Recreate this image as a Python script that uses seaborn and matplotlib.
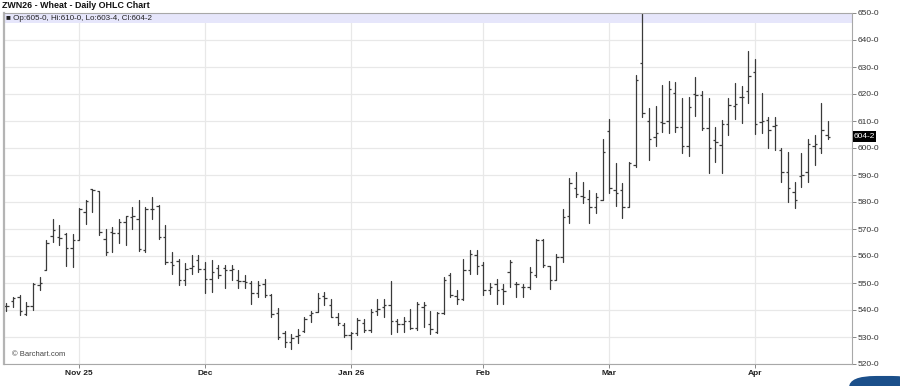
import numpy as np
import pandas as pd
import matplotlib
matplotlib.use("Agg")
import matplotlib.pyplot as plt
import matplotlib.transforms as mtransforms
from matplotlib.patches import Rectangle, FancyBboxPatch
import seaborn as sns

# ---------------- data (ZWN26 daily OHLC) ----------------
opens = [541.3, 543.5, 545.0, 538.5, 541.5, 549.3, 555.0, 567.5, 566.9, 568.0,
         562.8, 565.9, 576.4, 584.8, 584.2, 566.3, 568.8, 568.4, 572.7, 574.6,
         573.8, 562.1, 577.3, 578.5, 567.0, 557.8, 558.3, 551.2, 555.6, 558.6,
         555.1, 551.4, 555.7, 555.4, 554.8, 551.1, 550.7, 549.9, 546.2, 549.5,
         545.6, 539.0, 531.4, 528.0, 530.5, 532.2, 538.1, 539.4, 545.2, 541.9,
         537.5, 534.4, 530.7, 531.4, 535.3, 532.6, 539.8, 541.2, 541.7, 536.1,
         534.8, 536.0, 533.4, 541.0, 535.0, 531.9, 538.9, 552.8, 545.1, 544.2,
         554.7, 560.2, 556.5, 547.3, 549.8, 547.8, 554.0, 549.8, 548.5, 548.5,
         552.8, 566.0, 556.2, 551.0, 559.6, 575.0, 585.1, 582.2, 581.0, 578.3,
         580.7, 606.4, 584.5, 584.4, 578.3, 593.7, 631.6, 610.1, 604.2, 609.8,
         610.0, 620.5, 607.9, 600.9, 619.9, 619.6, 607.5, 603.0, 601.1, 608.9,
         615.5, 618.8, 621.2, 628.3, 609.5, 610.4, 608.1, 599.3, 591.2, 583.8,
         589.6, 591.2, 600.7, 599.9, 605.0]
highs = [542.7, 545.0, 545.5, 543.0, 550.0, 552.3, 566.0, 573.6, 571.5, 568.6,
         568.1, 577.9, 580.7, 584.8, 584.2, 570.0, 570.9, 573.6, 574.9, 578.1,
         580.6, 578.1, 581.9, 579.0, 571.6, 561.5, 558.8, 557.5, 560.2, 560.2,
         557.8, 558.4, 556.7, 556.7, 556.7, 554.8, 553.0, 550.7, 550.7, 551.5,
         545.8, 540.6, 532.2, 531.0, 533.0, 537.5, 539.8, 546.4, 546.8, 544.0,
         538.8, 535.1, 532.0, 536.9, 536.5, 540.2, 544.0, 544.0, 550.6, 536.7,
         537.3, 540.4, 542.8, 542.8, 539.6, 539.3, 552.2, 553.7, 547.3, 559.0,
         562.1, 562.1, 557.8, 550.0, 551.6, 549.8, 558.4, 550.4, 549.8, 555.9,
         566.4, 566.4, 556.2, 560.9, 577.5, 588.8, 591.2, 587.5, 584.4, 583.2,
         603.2, 610.6, 594.3, 586.9, 594.9, 627.0, 650.0, 614.7, 615.6, 623.3,
         624.9, 624.6, 618.4, 618.8, 626.4, 621.2, 618.4, 607.9, 610.4, 618.4,
         624.2, 623.0, 636.0, 633.0, 620.5, 611.4, 611.6, 599.9, 598.6, 587.5,
         598.3, 603.2, 604.8, 616.8, 610.0]
lows = [539.5, 541.2, 538.0, 538.0, 540.0, 547.4, 554.8, 565.3, 564.1, 556.3,
        556.0, 565.9, 571.7, 576.4, 567.8, 560.4, 561.6, 564.7, 564.1, 570.1,
        561.7, 561.5, 573.8, 566.4, 557.2, 553.5, 549.4, 549.4, 553.5, 554.1,
        546.4, 546.7, 551.7, 548.3, 551.1, 548.3, 548.0, 542.1, 545.0, 545.0,
        537.5, 529.3, 526.4, 525.6, 527.7, 532.0, 535.7, 539.4, 541.9, 537.3,
        534.4, 530.1, 525.4, 530.7, 532.0, 532.0, 538.1, 537.5, 531.2, 531.8,
        531.8, 533.0, 532.6, 533.6, 531.2, 531.5, 538.6, 544.8, 542.3, 543.6,
        553.5, 553.5, 545.4, 546.0, 542.3, 542.3, 548.5, 544.8, 544.8, 547.9,
        552.2, 555.9, 547.9, 551.0, 557.8, 572.1, 582.0, 579.5, 572.3, 575.8,
        580.7, 583.2, 578.5, 574.0, 578.3, 593.1, 611.6, 595.6, 600.7, 606.0,
        605.7, 606.0, 598.0, 597.0, 611.9, 606.7, 590.6, 594.9, 590.6, 604.8,
        610.6, 609.4, 616.8, 605.1, 605.7, 599.9, 599.3, 587.5, 579.9, 577.7,
        585.4, 587.5, 593.7, 598.0, 603.5]
closes = [541.5, 544.3, 539.5, 541.5, 549.5, 550.0, 564.7, 569.5, 566.5, 562.8,
          565.9, 577.4, 580.4, 584.4, 569.0, 561.6, 568.4, 572.7, 574.8, 574.8,
          562.7, 577.5, 577.5, 567.0, 557.8, 556.5, 551.2, 555.3, 556.3, 555.1,
          551.4, 554.0, 553.0, 554.8, 555.2, 550.7, 550.5, 546.2, 549.3, 545.6,
          538.4, 530.0, 528.0, 529.8, 530.7, 536.5, 538.8, 544.3, 544.3, 537.5,
          535.1, 530.7, 531.4, 536.3, 532.6, 539.4, 540.2, 541.9, 536.1, 534.8,
          536.1, 533.4, 542.2, 542.0, 533.0, 538.9, 551.0, 545.4, 544.2, 554.7,
          560.9, 556.2, 547.3, 548.5, 547.3, 547.0, 557.8, 549.5, 548.5, 554.0,
          566.0, 556.5, 551.0, 559.6, 574.4, 587.0, 583.0, 582.0, 578.3, 582.0,
          598.6, 585.1, 583.5, 578.3, 594.3, 625.2, 612.8, 603.2, 605.7, 609.4,
          622.0, 607.9, 600.9, 615.3, 619.6, 607.5, 600.1, 602.3, 608.9, 615.9,
          616.2, 619.0, 626.7, 608.9, 610.0, 606.7, 608.5, 591.2, 585.1, 580.7,
          590.0, 601.5, 601.5, 606.7, 604.25]

holidays = ["2025-11-27", "2025-12-25", "2026-01-01", "2026-01-19",
            "2026-02-16", "2026-04-03"]
month_labels = ["Nov 25", "Dec", "Jan 26", "Feb", "Mar", "Apr"]
y_ticks = list(range(520, 651, 10))
title = "ZWN26 - Wheat - Daily OHLC Chart"
header = "\u25A0 Op:605-0, Hi:610-0, Lo:603-4, Cl:604-2"
last_label = "604-2"

# ---------------- build frame ----------------
dates = pd.bdate_range("2025-10-17", "2026-04-17")
dates = dates[~dates.isin(pd.to_datetime(holidays))]
n = len(opens)
df = pd.DataFrame({"date": dates[:n], "open": opens, "high": highs,
                   "low": lows, "close": closes})
df["x"] = np.arange(n)
month_first = df.groupby(df["date"].dt.to_period("M"))["x"].min().values[1:]

hl = pd.DataFrame({"x": np.repeat(df["x"].values, 2),
                   "price": np.column_stack([df["low"], df["high"]]).ravel(),
                   "bar": np.repeat(df["x"].values, 2)})

# ---------------- figure ----------------
sns.set_theme(style="white")
plt.rcParams["font.family"] = ["Liberation Sans", "DejaVu Sans"]
W, H = 900, 386
fig = plt.figure(figsize=(W / 100, H / 100), dpi=100)
fig.patch.set_facecolor("white")
ax = fig.add_axes([4 / W, 1 - 364 / H, 848 / W, 351 / H])
ax.set_facecolor("white")

bar_color = "#3a3a3a"
sns.lineplot(data=hl, x="x", y="price", units="bar", estimator=None,
             sort=False, color=bar_color, linewidth=0.9, ax=ax, legend=False)
tick = 0.36
ax.hlines(df["open"], df["x"] - tick, df["x"], color=bar_color, lw=0.9)
ax.hlines(df["close"], df["x"], df["x"] + tick, color=bar_color, lw=0.9)

ax.set_xlim(-0.36, 127.66)
ax.set_ylim(520, 650)

# header band
ax.axhspan(646.3, 650, color="#e6e6fb", lw=0, zorder=0.6)

# grid
ax.set_yticks(y_ticks)
ax.set_yticklabels([f"{v}-0" for v in y_ticks])
ax.set_xticks(month_first)
ax.set_xticklabels(month_labels)
ax.set_axisbelow(True)
ax.grid(True, color="#e8e8e8", lw=0.9)
ax.yaxis.tick_right()
ax.tick_params(axis="y", which="both", right=True, left=False, length=3,
               width=0.7, color="#888888", labelsize=6.0, pad=0.8,
               labelcolor="#333333")
ax.tick_params(axis="x", bottom=True, length=3, width=0.7, color="#888888",
               labelsize=6.0, pad=1.5, labelcolor="#222222")
for lbl in ax.get_xticklabels():
    lbl.set_fontweight("bold")
ax.set_xlabel("")
ax.set_ylabel("")

for name, sp in ax.spines.items():
    sp.set_color("#a8a8a8")
    sp.set_linewidth(0.8)
ax.spines["left"].set_linewidth(1.6)
ax.spines["left"].set_color("#b4b4b4")

# texts
fig.text(2 / W, 1 - 5.5 / H, title, fontsize=6.4, fontweight="bold",
         va="center", ha="left", color="#111111")
fig.text(6 / W, 1 - 18.5 / H, header, fontsize=5.8, va="center", ha="left",
         color="#222222")
fig.text(12 / W, 1 - 354 / H, "\u00a9 Barchart.com", fontsize=5.5,
         va="center", ha="left", color="#444444")

# last price tag
trans = mtransforms.blended_transform_factory(fig.transFigure, ax.transData)
ax.add_patch(Rectangle((853 / W, 602.4), 23 / W, 3.8, transform=trans,
                       facecolor="black", edgecolor="none", clip_on=False,
                       zorder=5))
ax.text(864.5 / W, 604.25, last_label, transform=trans, color="white",
        fontsize=6.0, ha="center", va="center", zorder=6, clip_on=False)

# chat widget corner (partial)
fig.patches.append(FancyBboxPatch((849 / W, -0.06), 70 / W, 0.086,
                                  boxstyle="round,pad=0,rounding_size=0.03",
                                  transform=fig.transFigure,
                                  facecolor="#1b4f8a", edgecolor="none"))

fig.savefig("out.png", dpi=100, facecolor="white")
